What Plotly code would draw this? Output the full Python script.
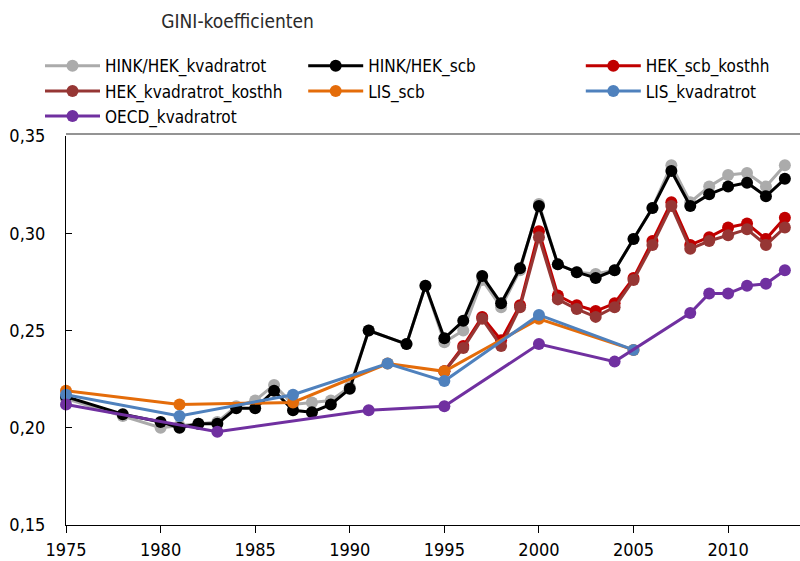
import plotly.graph_objects as go

years_hink = [1975, 1978, 1980, 1981, 1982, 1983, 1984, 1985, 1986, 1987, 1988, 1989, 1990,
              1991, 1993, 1994, 1995, 1996, 1997, 1998, 1999, 2000, 2001, 2002, 2003, 2004,
              2005, 2006, 2007, 2008, 2009, 2010, 2011, 2012, 2013]
hink_kvadratrot = [0.215, 0.206, 0.200, 0.201, 0.202, 0.203, 0.211, 0.214, 0.222, 0.212, 0.213, 0.214, 0.221,
                   0.250, 0.243, 0.273, 0.244, 0.250, 0.276, 0.262, 0.281, 0.315, 0.284, 0.280, 0.279, 0.281,
                   0.297, 0.313, 0.335, 0.316, 0.324, 0.330, 0.331, 0.324, 0.335]
hink_scb = [0.216, 0.207, 0.203, 0.200, 0.202, 0.202, 0.210, 0.210, 0.219, 0.209, 0.208, 0.212, 0.220,
            0.250, 0.243, 0.273, 0.246, 0.255, 0.278, 0.264, 0.282, 0.314, 0.284, 0.280, 0.277, 0.281,
            0.297, 0.313, 0.332, 0.314, 0.320, 0.324, 0.326, 0.319, 0.328]

years_hek = [1995, 1996, 1997, 1998, 1999, 2000, 2001, 2002, 2003, 2004, 2005, 2006, 2007,
             2008, 2009, 2010, 2011, 2012, 2013]
hek_scb_kosthh = [0.229, 0.242, 0.257, 0.245, 0.263, 0.301, 0.268, 0.263, 0.260, 0.264, 0.277, 0.296, 0.316,
                  0.294, 0.298, 0.303, 0.305, 0.297, 0.308]
hek_kvadratrot_kosthh = [0.229, 0.241, 0.256, 0.242, 0.262, 0.298, 0.266, 0.261, 0.257, 0.262, 0.276, 0.294, 0.314,
                         0.292, 0.296, 0.299, 0.302, 0.294, 0.303]

years_lis = [1975, 1981, 1987, 1992, 1995, 2000, 2005]
lis_scb = [0.219, 0.212, 0.213, 0.233, 0.229, 0.256, 0.240]
lis_kvadratrot = [0.217, 0.206, 0.217, 0.233, 0.224, 0.258, 0.240]

years_oecd = [1975, 1983, 1991, 1995, 2000, 2004, 2008, 2009, 2010, 2011, 2012, 2013]
oecd_kvadratrot = [0.212, 0.198, 0.209, 0.211, 0.243, 0.234, 0.259, 0.269, 0.269, 0.273, 0.274, 0.281]

y_ticks = [0.15, 0.20, 0.25, 0.30, 0.35]
x_ticks = [1975, 1980, 1985, 1990, 1995, 2000, 2005, 2010]

FONT = "DejaVu Sans Condensed, Liberation Sans Narrow, Arial Narrow, Roboto, sans-serif"

series = [
    ("HINK/HEK_kvadratrot", years_hink, hink_kvadratrot, "#ABABAB", "legend"),
    ("HINK/HEK_scb", years_hink, hink_scb, "#000000", "legend2"),
    ("HEK_scb_kosthh", years_hek, hek_scb_kosthh, "#C00000", "legend3"),
    ("HEK_kvadratrot_kosthh", years_hek, hek_kvadratrot_kosthh, "#963634", "legend"),
    ("LIS_scb", years_lis, lis_scb, "#E46C0A", "legend2"),
    ("LIS_kvadratrot", years_lis, lis_kvadratrot, "#4F81BD", "legend3"),
    ("OECD_kvadratrot", years_oecd, oecd_kvadratrot, "#7030A0", "legend"),
]

fig = go.Figure()
for name, xs, ys, col, lg in series:
    fig.add_trace(go.Scatter(
        x=xs, y=ys, name=name, mode="lines+markers",
        line=dict(color=col, width=3),
        marker=dict(color=col, size=12),
        cliponaxis=False, legend=lg,
    ))

leg_common = dict(
    orientation="v", xref="container", yref="container", yanchor="top", xanchor="left",
    font=dict(family=FONT, size=17, color="#000000"),
    bgcolor="rgba(0,0,0,0)", tracegroupgap=0, itemwidth=55,
)

axis_font = dict(family=FONT, size=18, color="black")

fig.update_layout(
    width=800, height=561, autosize=False,
    margin=dict(l=66, r=0, t=136, b=36, autoexpand=False),
    paper_bgcolor="white", plot_bgcolor="white",
    separators=", ",
    title=dict(text="GINI-koefficienten", x=0.297, xanchor="center", y=0.962, yanchor="middle",
               font=dict(family=FONT, size=19, color="#2a2a2a")),
    legend=dict(x=0.05, y=0.914, **leg_common),
    legend2=dict(x=0.379, y=0.914, **leg_common),
    legend3=dict(x=0.726, y=0.914, **leg_common),
    xaxis=dict(range=[1975, 2013.8], tickvals=x_ticks, ticks="outside", ticklen=7, tickwidth=1,
               tickcolor="black", showline=True, linecolor="black", linewidth=1, showgrid=False,
               zeroline=False, tickfont=axis_font, ticklabelstandoff=1),
    yaxis=dict(range=[0.15, 0.35], tickvals=y_ticks, tickformat=".2f", ticks="inside", ticklen=6,
               tickwidth=1, tickcolor="black", showline=True, linecolor="black", linewidth=1,
               showgrid=False, zeroline=False, tickfont=axis_font, ticklabelstandoff=16),
    shapes=[dict(type="line", xref="paper", yref="paper", x0=0, x1=1, y0=1.005, y1=1.005,
                 line=dict(color="#707070", width=1.5))],
    showlegend=True,
)

fig.write_html("out.html", config={"displayModeBar": False},
               post_script="document.body.style.margin='0px';")
